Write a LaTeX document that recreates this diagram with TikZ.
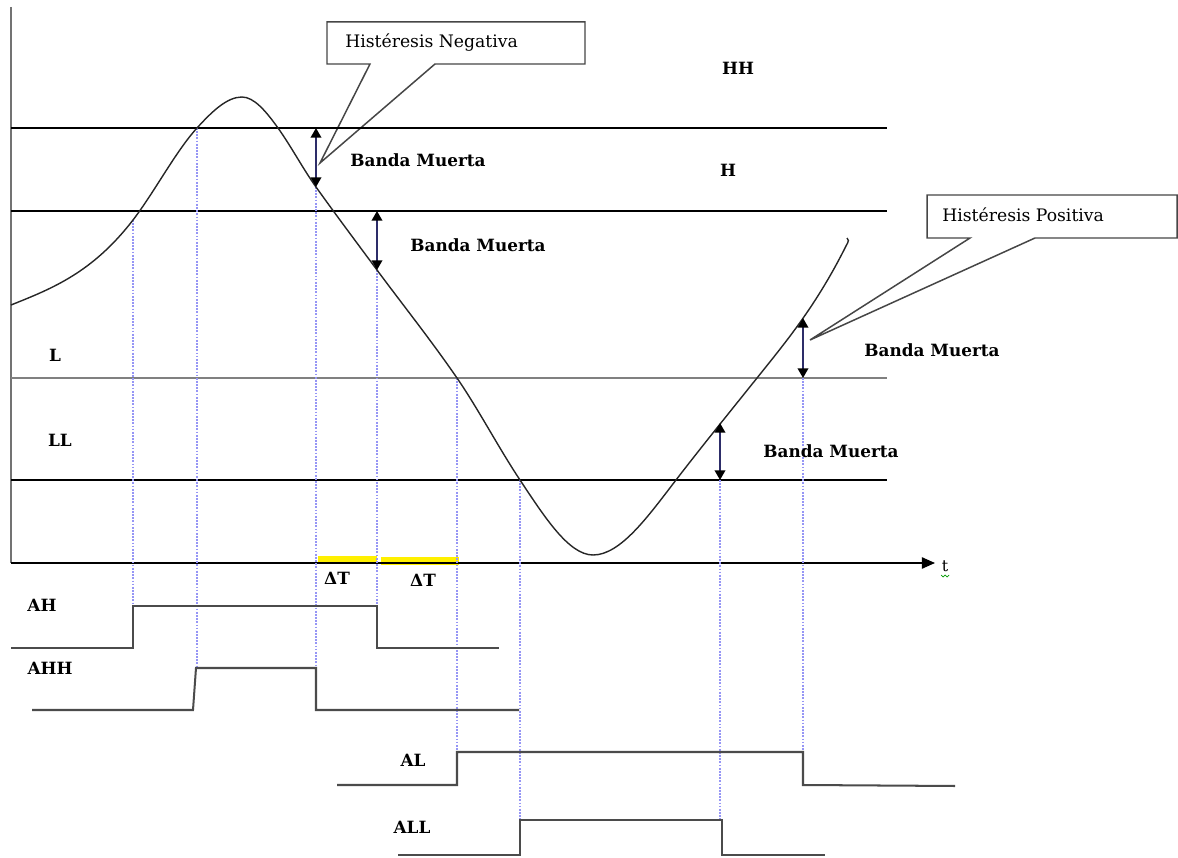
\documentclass[tikz,border=0pt]{standalone}
\usepackage{fontspec}
\setmainfont{DejaVu Serif}
\usetikzlibrary{arrows.meta}
\definecolor{guide}{RGB}{150,150,245}
\definecolor{band}{RGB}{45,45,105}
\definecolor{wave}{RGB}{75,75,75}
\definecolor{marker}{RGB}{255,240,0}
\definecolor{frame}{RGB}{70,70,70}
\begin{document}
\begin{tikzpicture}[x=0.02cm,y=-0.02cm,
  lbl/.style={font=\fontsize{9.6pt}{11pt}\selectfont\bfseries, inner sep=0pt},
  note/.style={font=\fontsize{9.8pt}{11pt}\selectfont, inner sep=0pt, anchor=west},
  level/.style={black, line width=0.75pt},
  guideline/.style={guide, line width=0.75pt, dash pattern=on 1pt off 0.8pt},
  signal/.style={wave, line width=1.15pt},
  deadband/.style={band, line width=1.1pt,
     {Triangle[length=5.5pt,width=6pt,color=black]}-{Triangle[length=5.5pt,width=6pt,color=black]}},
  callout/.style={draw=frame, line width=0.85pt, fill=white},
  period/.style={marker, line width=4.2pt}]
\useasboundingbox (0,0) rectangle (1178,858);

% callout boxes with pointers
\draw[callout] (327,22) -- (585,22) -- (585,64) -- (435,64) -- (320,163) -- (370,64) -- (327,64) -- cycle;
\node[note] (neg) at (345,43) {Histéresis Negativa};
\draw[callout] (927,195) -- (1177,195) -- (1177,238) -- (1035,238) -- (810,340) -- (970,238) -- (927,238) -- cycle;
\node[note] (pos) at (942,215) {Histéresis Positiva};

% axes
\coordinate (O) at (11,563);
\coordinate (top) at (11,7);
\coordinate (tend) at (935,563);
\draw[gray!90!black, line width=1.4pt] (top) -- (O);

% yellow delay markers
\draw[period] (318,560) -- (377,560);
\draw[period] (381,561) -- (459,561);
\draw[level, -{Triangle[length=7.5pt,width=6.5pt]}] (O) -- (tend);
\node[font=\fontsize{9pt}{10pt}\selectfont, inner sep=0pt] (t) at (945,566) {t};
\draw[green!60!black, line width=0.4pt] (941,575) -- (943,577) -- (945,575) -- (947,577) -- (949,575);

% alarm levels
\draw[level] (11,128) -- (887,128);
\draw[level] (11,211) -- (887,211);
\draw[gray, line width=1.3pt] (11,378) -- (887,378);
\draw[level] (11,480) -- (887,480);

\node[lbl] (HH) at (738,68) {HH};
\node[lbl] (H) at (728,170) {H};
\node[lbl] (L) at (55,355) {L};
\node[lbl] (LL) at (60,440) {LL};

% guide lines from the process variable to the alarm signals
\draw[guideline] (133,220) -- (133,606);
\draw[guideline] (197,128) -- (197,668);
\draw[guideline] (316,187) -- (316,668);
\draw[guideline] (377,270) -- (377,606);
\draw[guideline] (457,378) -- (457,752);
\draw[guideline] (520,480) -- (520,820);
\draw[guideline] (720,480) -- (720,820);
\draw[guideline] (803,378) -- (803,752);

% process variable
\draw[black!85, line width=0.8pt]
  (11,305) .. controls (51.7,288.7) and (92.3,272.9) .. (133,220)
  .. controls (154.3,192.3) and (175.7,151.4) .. (197,128)
  .. controls (212,111.5) and (227,97) .. (242,97)
  .. controls (254,97) and (266,111.2) .. (278,128)
  .. controls (290.7,145.7) and (303.3,169.3) .. (316,187)
  .. controls (336.3,215.4) and (356.7,242.6) .. (377,270)
  .. controls (403.7,306) and (430.3,339.3) .. (457,378)
  .. controls (478,408.5) and (499,448.5) .. (520,480)
  .. controls (544.3,516.5) and (568.7,555) .. (593,555)
  .. controls (620.7,555) and (648.3,516) .. (676,480)
  .. controls (703,444.9) and (730,411.75) .. (757,378)
  .. controls (786.7,340.9) and (816.3,305.4) .. (846,246)
  .. controls (849,241) and (849,239) .. (847,238);

% dead bands
\draw[deadband] (316,128) -- (316,187);
\draw[deadband] (377,211) -- (377,270);
\draw[deadband] (803,318) -- (803,378);
\draw[deadband] (720,423) -- (720,480);
\node[lbl] (bm1) at (418,160) {Banda Muerta};
\node[lbl] (bm2) at (478,245) {Banda Muerta};
\node[lbl] (bm3) at (932,350) {Banda Muerta};
\node[lbl] (bm4) at (831,451) {Banda Muerta};
\node[lbl] (dt1) at (337,578) {ΔT};
\node[lbl] (dt2) at (423,580) {ΔT};

% alarm outputs
\node[lbl] (AH) at (42,605) {AH};
\draw[signal] (11,648) -- (133,648) -- (133,606) -- (377,606) -- (377,648) -- (499,648);
\node[lbl] (AHH) at (50,668) {AHH};
\draw[signal] (32,710) -- (193,710) -- (196,668) -- (316,668) -- (316,710) -- (519,710);
\node[lbl] (AL) at (413,760) {AL};
\draw[signal] (337,785) -- (457,785) -- (457,752) -- (803,752) -- (803,785) -- (955,786);
\node[lbl] (ALL) at (412,827) {ALL};
\draw[signal] (398,855) -- (520,855) -- (520,820) -- (722,820) -- (722,855) -- (825,855);
\end{tikzpicture}
\end{document}
